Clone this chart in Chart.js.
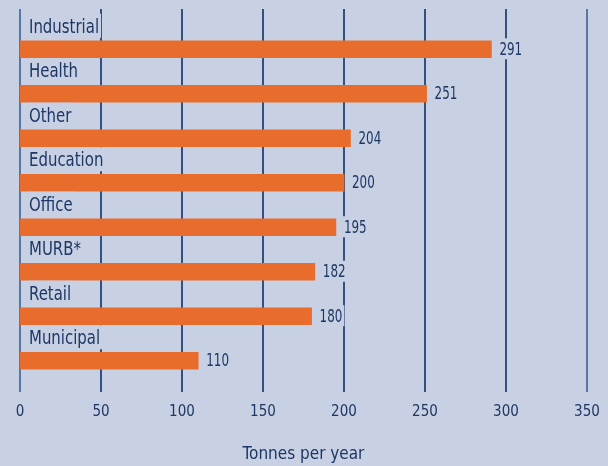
<!DOCTYPE html>
<html>
<head>
<meta charset="utf-8">
<script src="https://cdn.jsdelivr.net/npm/chart.js@4.4.0/dist/chart.umd.min.js"></script>
<style>
    html, body { margin: 0; padding: 0; background: #c8d0e3; }
    #wrap { width: 608px; height: 466px; position: relative; }
</style>
</head>
<body>
<div id="wrap"><canvas id="wasteChart"></canvas></div>
<script>
const sectors = ['Industrial', 'Health', 'Other', 'Education', 'Office', 'MURB*', 'Retail', 'Municipal'];
const tonnes = [291, 251, 204, 200, 195, 182, 180, 110];
const axisMax = 350;
const axisStep = 50;
const axisTitle = 'Tonnes per year';

const BG = '#c8d0e3';
const NAVY = '#1e3764';
const ORANGE = '#e86d2d';
const FONT = '"DejaVu Sans Condensed", "Liberation Sans", sans-serif';

// vertical rules drawn taller than the plot area, behind the bars
const gridPlugin = {
    id: 'tallGrid',
    beforeDatasetsDraw(chart) {
        const { ctx, scales: { x } } = chart;
        ctx.save();
        x.ticks.forEach(t => {
            const px = Math.round(x.getPixelForValue(t.value));
            const edge = t.value === 0 || t.value === axisMax;
            ctx.strokeStyle = edge ? '#5a76a2' : '#34507f';
            ctx.lineWidth = 2;
            ctx.beginPath();
            ctx.moveTo(px, 9);
            ctx.lineTo(px, 392);
            ctx.stroke();
        });
        ctx.restore();
    }
};

// narrow text: squeezed horizontally with a background patch behind it
function narrowText(ctx, txt, x, y, size, squeeze, baseline, box) {
    ctx.font = size + 'px ' + FONT;
    const w = ctx.measureText(txt).width * squeeze;
    ctx.fillStyle = BG;
    ctx.fillRect(x - 1, box[0], w + 3, box[1]);
    ctx.save();
    ctx.translate(x, y);
    ctx.scale(squeeze, 1);
    ctx.textBaseline = baseline;
    ctx.textAlign = 'left';
    ctx.fillStyle = NAVY;
    ctx.fillText(txt, 0, 0);
    ctx.restore();
}

// sector names above each bar and the value past its end
const labelPlugin = {
    id: 'barLabels',
    afterDatasetsDraw(chart) {
        const { ctx } = chart;
        const meta = chart.getDatasetMeta(0);
        meta.data.forEach((bar, i) => {
            const top = bar.y - bar.height / 2;
            narrowText(ctx, sectors[i], 29, top - 8, 20, 0.83, 'alphabetic', [top - 27, 24]);
            narrowText(ctx, String(tonnes[i]), bar.x + 8, bar.y + 1, 17, 0.78, 'middle', [bar.y - 11, 21]);
        });
    }
};

new Chart(document.getElementById('wasteChart'), {
    type: 'bar',
    data: {
        labels: sectors,
        datasets: [{
            data: tonnes,
            backgroundColor: ORANGE,
            borderWidth: 0,
            barThickness: 17
        }]
    },
    options: {
        indexAxis: 'y',
        responsive: true,
        maintainAspectRatio: false,
        animation: false,
        layout: {
            padding: { left: 20, right: 21, top: 27, bottom: 0 }
        },
        plugins: {
            legend: { display: false },
            tooltip: { enabled: false }
        },
        scales: {
            y: { display: false },
            x: {
                min: 0,
                max: axisMax,
                border: { display: false },
                grid: { display: false, drawTicks: false },
                ticks: {
                    stepSize: axisStep,
                    color: NAVY,
                    padding: 20,
                    font: { family: FONT, size: 15 }
                },
                title: {
                    display: true,
                    text: axisTitle,
                    color: NAVY,
                    padding: { top: 20, bottom: 1 },
                    font: { family: FONT, size: 17 }
                },
                afterFit(scale) {
                    scale.paddingLeft = 0;
                    scale.paddingRight = 0;
                    scale.height = 83;
                }
            }
        }
    },
    plugins: [gridPlugin, labelPlugin]
});
</script>
</body>
</html>
